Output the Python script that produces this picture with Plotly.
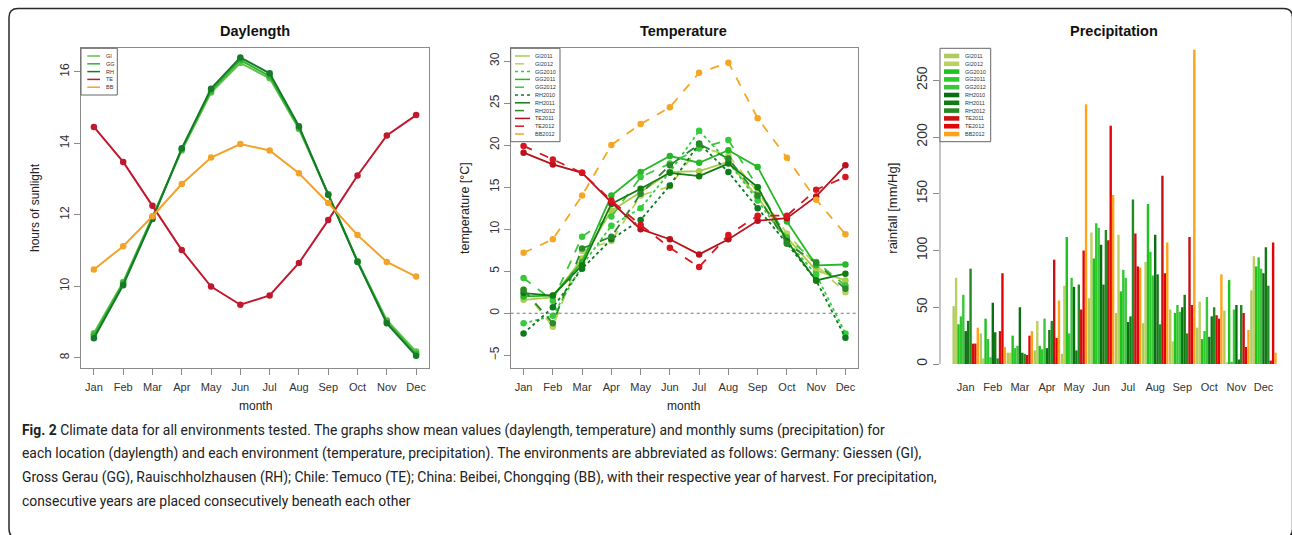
import plotly.graph_objects as go

W, H = 1292, 535

months = ["Jan", "Feb", "Mar", "Apr", "May", "Jun", "Jul", "Aug", "Sep", "Oct", "Nov", "Dec"]
month_idx = list(range(1, 13))

# ---------------- Daylength (hours of sunlight) ----------------
day_names = ["GI", "GG", "RH", "TE", "BB"]
day_GI = [8.68, 10.12, 11.95, 13.80, 15.42, 16.25, 15.82, 14.40, 12.58, 10.70, 9.05, 8.17]
day_GG = [8.62, 10.08, 11.92, 13.84, 15.47, 16.33, 15.88, 14.44, 12.57, 10.69, 9.00, 8.10]
day_RH = [8.54, 10.03, 11.88, 13.86, 15.53, 16.40, 15.96, 14.48, 12.56, 10.68, 8.96, 8.05]
day_TE = [14.46, 13.48, 12.25, 11.01, 9.99, 9.48, 9.74, 10.65, 11.85, 13.10, 14.22, 14.79]
day_BB = [10.47, 11.12, 11.96, 12.86, 13.60, 13.98, 13.80, 13.16, 12.33, 11.43, 10.68, 10.27]
day_values = [day_GI, day_GG, day_RH, day_TE, day_BB]
day_colors = ["#5fc24a", "#2fb52f", "#167a2a", "#c0182e", "#f3a22a"]

# ---------------- Temperature (°C) ----------------
temp_names = ["GI2011", "GI2012", "GG2010", "GG2011", "GG2012",
              "RH2010", "RH2011", "RH2012", "TE2011", "TE2012", "BB2012"]
t_GI2011 = [1.6, 1.9, 6.5, 12.2, 14.4, 16.8, 16.9, 18.0, 13.8, 9.0, 5.1, 3.9]
t_GI2012 = [2.8, -1.6, 7.4, 8.6, 14.0, 15.1, 19.8, 18.8, 14.4, 9.5, 5.7, 2.5]
t_GG2010 = [-1.2, -0.3, 5.7, 10.4, 12.5, 16.8, 21.7, 18.0, 13.4, 8.6, 4.6, -2.4]
t_GG2011 = [2.0, 2.1, 6.1, 14.0, 16.8, 18.7, 17.9, 19.4, 17.4, 10.9, 5.7, 5.8]
t_GG2012 = [4.2, 1.5, 9.1, 11.5, 16.2, 17.8, 19.6, 20.6, 15.0, 9.0, 6.1, 3.3]
t_RH2010 = [-2.4, 0.7, 5.3, 8.8, 11.1, 15.2, 20.2, 16.8, 12.5, 8.3, 3.9, -2.9]
t_RH2011 = [2.4, 2.1, 5.7, 13.0, 14.8, 16.7, 16.3, 17.8, 15.0, 8.6, 3.9, 4.7]
t_RH2012 = [2.8, -1.2, 7.7, 9.1, 14.2, 17.6, 20.1, 18.4, 14.0, 8.3, 6.0, 2.9]
t_TE2011 = [19.1, 17.7, 16.7, 13.2, 10.0, 8.8, 7.0, 8.8, 11.0, 11.3, 13.9, 17.6]
t_TE2012 = [19.9, 18.3, 16.7, 13.4, 10.5, 7.8, 5.5, 9.3, 11.6, 11.6, 14.7, 16.2]
t_BB2012 = [7.2, 8.8, 14.0, 20.0, 22.5, 24.5, 28.6, 29.8, 23.2, 18.5, 13.5, 9.4]
temp_values = [t_GI2011, t_GI2012, t_GG2010, t_GG2011, t_GG2012,
               t_RH2010, t_RH2011, t_RH2012, t_TE2011, t_TE2012, t_BB2012]
temp_colors = ["#a9cc4c", "#b8d25c", "#33cc3d", "#27b827", "#3ac73a",
               "#0d7a1f", "#127c12", "#2a8a2a", "#b8121c", "#d8161f", "#f5a623"]
temp_dash = ["solid", "dash", "dot", "solid", "dash",
             "dot", "solid", "dash", "solid", "dash", "dash"]

# ---------------- Precipitation (monthly sums) ----------------
prec_names = temp_names
p_GI2011 = [51, 27, 10, 12, 9, 58, 45, 36, 48, 32, 47, 65]
p_GI2012 = [76, 5, 10, 38, 69, 116, 114, 90, 20, 55, 1, 95]
p_GG2010 = [35, 40, 25, 16, 112, 93, 64, 141, 45, 22, 74, 86]
p_GG2011 = [42, 22, 14, 13, 27, 124, 83, 99, 52, 29, 2, 94]
p_GG2012 = [61, 6, 16, 40, 76, 120, 76, 78, 46, 59, 48, 84]
p_RH2010 = [29, 54, 50, 14, 68, 105, 37, 114, 50, 24, 52, 80]
p_RH2011 = [38, 28, 10, 30, 12, 70, 42, 79, 61, 42, 4, 103]
p_RH2012 = [84, 5, 9, 38, 70, 118, 145, 35, 27, 50, 52, 69]
p_TE2011 = [18, 29, 8, 92, 48, 109, 115, 166, 112, 43, 45, 3]
p_TE2012 = [18, 80, 25, 23, 100, 210, 86, 80, 52, 40, 15, 107]
p_BB2012 = [32, 15, 29, 56, 229, 149, 85, 107, 277, 79, 30, 10]
prec_values = [p_GI2011, p_GI2012, p_GG2010, p_GG2011, p_GG2012,
               p_RH2010, p_RH2011, p_RH2012, p_TE2011, p_TE2012, p_BB2012]
prec_colors = ["#aecb5c", "#b9d162", "#1fc21f", "#2ccb2c", "#3cc43c",
               "#0a6e14", "#137a13", "#248b24", "#c81212", "#e30505", "#ffa31a"]


def px(x):
    return x / W


def py(y):
    return 1 - y / H


FONT = "Liberation Sans, Arial, sans-serif"
TICKC = "#333333"
FRAME = "#8a8a8a"

fig = go.Figure()

for name, vals, col in zip(day_names, day_values, day_colors):
    fig.add_trace(go.Scatter(x=month_idx, y=vals, mode="lines+markers", name=name,
                             line=dict(color=col, width=2), marker=dict(color=col, size=6.5),
                             xaxis="x", yaxis="y", showlegend=False))

for name, vals, col, dsh in zip(temp_names, temp_values, temp_colors, temp_dash):
    fig.add_trace(go.Scatter(x=month_idx, y=vals, mode="lines+markers", name=name,
                             line=dict(color=col, width=1.8, dash=dsh),
                             marker=dict(color=col, size=6.5),
                             xaxis="x2", yaxis="y2", showlegend=False))

for name, vals, col in zip(prec_names, prec_values, prec_colors):
    fig.add_trace(go.Bar(x=month_idx, y=vals, name=name, marker=dict(color=col, line=dict(width=0)),
                         xaxis="x3", yaxis="y3", showlegend=False))

dom_y = [py(368), py(48.3)]
axis_common = dict(showgrid=False, zeroline=False, ticks="outside", ticklen=6, tickcolor=FRAME,
                   tickfont=dict(family=FONT, size=11, color=TICKC))
frame = dict(showline=True, linecolor=FRAME, linewidth=1, mirror=True)

fig.update_layout(
    width=W, height=H, margin=dict(l=0, r=0, t=0, b=0),
    paper_bgcolor="white", plot_bgcolor="white",
    barmode="group", bargap=0.02, bargroupgap=0,
    xaxis=dict(domain=[px(81), px(429)], range=[0.56, 12.44], anchor="y",
               tickvals=month_idx, ticktext=months, ticklabelstandoff=3, **axis_common, **frame),
    yaxis=dict(domain=dom_y, range=[7.71, 16.66], anchor="x", tickvals=[8, 10, 12, 14, 16],
               tickangle=-90, **{**axis_common, "tickfont": dict(family=FONT, size=12, color=TICKC)},
               **frame),
    xaxis2=dict(domain=[px(510.7), px(858.3)], range=[0.56, 12.44], anchor="y2",
                tickvals=month_idx, ticktext=months, ticklabelstandoff=3, **axis_common, **frame),
    yaxis2=dict(domain=dom_y, range=[-6.51, 31.51], anchor="x2", tickvals=[-5, 0, 5, 10, 15, 20, 25, 30],
                tickangle=-90, **{**axis_common, "tickfont": dict(family=FONT, size=12, color=TICKC)},
                **frame),
    xaxis3=dict(domain=[px(940), px(1277)], range=[0.049, 12.5], anchor="y3",
                tickvals=month_idx, ticktext=months, showgrid=False, zeroline=False, showline=False,
                ticks="outside", ticklen=9, tickcolor="rgba(0,0,0,0)",
                tickfont=dict(family=FONT, size=11, color=TICKC)),
    yaxis3=dict(domain=dom_y, range=[-3.5, 278.2], anchor="x3", tickvals=[0, 50, 100, 150, 200, 250],
                tickangle=-90, showline=False, showgrid=False, zeroline=False, ticks="outside",
                ticklen=6, tickcolor=FRAME, tickfont=dict(family=FONT, size=14, color=TICKC)),
)

shapes = []
annotations = []

# precipitation y-axis line (R style: spans the tick range only)
shapes.append(dict(type="line", xref="paper", yref="y3", x0=px(940), x1=px(940), y0=0, y1=250,
                   line=dict(color=FRAME, width=1)))
# zero reference line in temperature panel
shapes.append(dict(type="line", xref="x2 domain", yref="y2", x0=0, x1=1, y0=0, y1=0,
                   line=dict(color="#777777", width=1, dash="dot")))

# panel titles and axis titles
for txt, cx in [("Daylength", 255), ("Temperature", 683.3), ("Precipitation", 1114)]:
    annotations.append(dict(text="<b>%s</b>" % txt, x=px(cx), y=py(31), xref="paper", yref="paper",
                            showarrow=False, xanchor="center", yanchor="middle",
                            font=dict(family=FONT, size=14.5, color="#111111")))
for cx in [255, 683.3]:
    annotations.append(dict(text="month", x=px(cx), y=py(406), xref="paper", yref="paper",
                            showarrow=False, xanchor="center", yanchor="middle",
                            font=dict(family=FONT, size=12, color="#222222")))
for txt, cx, fs in [("hours of sunlight", 35, 12), ("temperature [°C]", 465, 12.5),
                    ("rainfall [mm/Hg]", 891.7, 13)]:
    annotations.append(dict(text=txt, x=px(cx), y=py(208), xref="paper", yref="paper",
                            showarrow=False, xanchor="center", yanchor="middle", textangle=-90,
                            font=dict(family=FONT, size=fs, color="#222222")))


def legend_box(x0, x1, y0, y1):
    shapes.append(dict(type="rect", xref="paper", yref="paper", x0=px(x0), x1=px(x1),
                       y0=py(y1), y1=py(y0), line=dict(color="#666666", width=1),
                       fillcolor="white", layer="above"))


LEG_FS = 5.5
ENTRY_Y0 = 56.0
ENTRY_DY = 7.8

# daylength legend
legend_box(81, 117.3, 48.3, 95)
for i, (name, col) in enumerate(zip(day_names, day_colors)):
    yy = ENTRY_Y0 + i * ENTRY_DY
    shapes.append(dict(type="line", xref="paper", yref="paper", x0=px(87.3), x1=px(100),
                       y0=py(yy), y1=py(yy), line=dict(color=col, width=1.5), layer="above"))
    annotations.append(dict(text=name, x=px(104), y=py(yy), xref="paper", yref="paper",
                            showarrow=False, xanchor="left", yanchor="middle",
                            font=dict(family=FONT, size=LEG_FS, color="#333333")))

# temperature legend
legend_box(510.7, 560, 48.3, 141.7)
for i, (name, col, dsh) in enumerate(zip(temp_names, temp_colors, temp_dash)):
    yy = ENTRY_Y0 + i * ENTRY_DY
    shapes.append(dict(type="line", xref="paper", yref="paper", x0=px(515), x1=px(530),
                       y0=py(yy), y1=py(yy), line=dict(color=col, width=1.5, dash=dsh), layer="above"))
    annotations.append(dict(text=name, x=px(533), y=py(yy), xref="paper", yref="paper",
                            showarrow=False, xanchor="left", yanchor="middle",
                            font=dict(family=FONT, size=LEG_FS, color="#333333")))

# precipitation legend
legend_box(940, 990.7, 48.3, 141.7)
for i, (name, col) in enumerate(zip(prec_names, prec_colors)):
    yy = ENTRY_Y0 + i * ENTRY_DY
    shapes.append(dict(type="rect", xref="paper", yref="paper", x0=px(944), x1=px(959.3),
                       y0=py(yy + 2.3), y1=py(yy - 2.3), line=dict(width=0), fillcolor=col,
                       layer="above"))
    annotations.append(dict(text=name, x=px(963), y=py(yy), xref="paper", yref="paper",
                            showarrow=False, xanchor="left", yanchor="middle",
                            font=dict(family=FONT, size=LEG_FS, color="#333333")))

# caption
CAP_FONT = "Roboto, Arial, sans-serif"
caption_lines = [
    "<b>Fig. 2</b> Climate data for all environments tested. The graphs show mean values (daylength, temperature) and monthly sums (precipitation) for",
    "each location (daylength) and each environment (temperature, precipitation). The environments are abbreviated as follows: Germany: Giessen (GI),",
    "Gross Gerau (GG), Rauischholzhausen (RH); Chile: Temuco (TE); China: Beibei, Chongqing (BB), with their respective year of harvest. For precipitation,",
    "consecutive years are placed consecutively beneath each other",
]
for i, line in enumerate(caption_lines):
    annotations.append(dict(text=line, x=px(20), y=py(430 + i * 23.5), xref="paper", yref="paper",
                            showarrow=False, xanchor="left", yanchor="middle",
                            font=dict(family=CAP_FONT, size=13.9, color="#222222")))

# outer rounded frame
x0, x1, y0, y1, r = 9, 1292.5, 8.5, 538, 9


def P(x, y):
    return "%.5f,%.5f" % (px(x), py(y))


path = ("M " + P(x0 + r, y0) + " L " + P(x1 - r, y0) + " Q " + P(x1, y0) + " " + P(x1, y0 + r) +
        " L " + P(x1, y1 - r) + " Q " + P(x1, y1) + " " + P(x1 - r, y1) +
        " L " + P(x0 + r, y1) + " Q " + P(x0, y1) + " " + P(x0, y1 - r) +
        " L " + P(x0, y0 + r) + " Q " + P(x0, y0) + " " + P(x0 + r, y0) + " Z")
shapes.append(dict(type="path", xref="paper", yref="paper", path=path,
                   line=dict(color="#2a2a2a", width=1.5)))

fig.update_layout(shapes=shapes, annotations=annotations)
fig.write_html("out.html")
